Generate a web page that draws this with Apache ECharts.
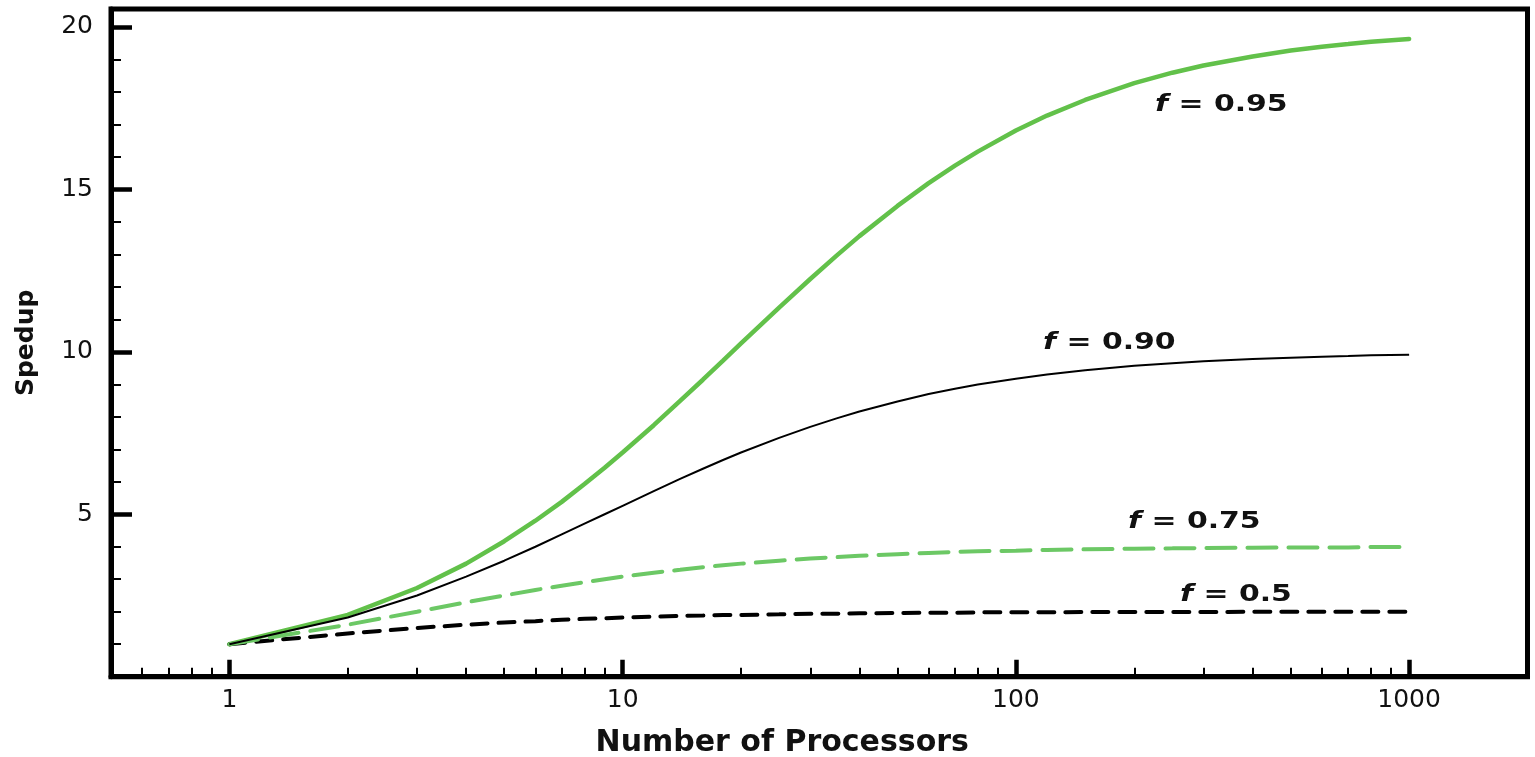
<!DOCTYPE html>
<html>
<head>
<meta charset="utf-8">
<script src="https://cdn.jsdelivr.net/npm/echarts@6/dist/echarts.min.js"></script>
<style>
  html,body{margin:0;padding:0;background:#fff;}
  #chart{width:1535px;height:757px;}
</style>
</head>
<body>
<div id="chart"></div>
<script>
// number of processors (x) and speedup
var PROCS = [1,2,3,4,5,6,7,8,9,10,12,14,16,18,20,25,30,35,40,50,60,70,80,100,120,150,200,250,300,400,500,600,700,800,1000];
var F95 = [1,1.9,2.73,3.48,4.17,4.8,5.38,5.93,6.43,6.9,7.74,8.49,9.14,9.73,10.26,11.36,12.24,12.96,13.56,14.49,15.19,15.73,16.16,16.81,17.27,17.75,18.27,18.59,18.81,19.09,19.27,19.39,19.47,19.54,19.63];
var F90 = [1,1.82,2.5,3.08,3.57,4,4.38,4.71,5,5.26,5.71,6.09,6.4,6.67,6.9,7.35,7.69,7.95,8.16,8.47,8.7,8.86,8.99,9.17,9.3,9.43,9.57,9.65,9.71,9.78,9.82,9.85,9.87,9.89,9.91];
var F75 = [1,1.6,2,2.29,2.5,2.67,2.8,2.91,3,3.08,3.2,3.29,3.37,3.43,3.48,3.57,3.64,3.68,3.72,3.77,3.81,3.84,3.86,3.88,3.9,3.92,3.94,3.95,3.96,3.97,3.98,3.98,3.98,3.99,3.99];
var F50 = [1,1.33,1.5,1.6,1.67,1.71,1.75,1.78,1.8,1.82,1.85,1.87,1.88,1.9,1.9,1.92,1.94,1.94,1.95,1.96,1.97,1.97,1.98,1.98,1.98,1.99,1.99,1.99,1.99,2,2,2,2,2,2];

var X_MAJOR = [1,10,100,1000];
var X_MINOR = [0.6,0.7,0.8,0.9,2,3,4,5,6,7,8,9,20,30,40,50,60,70,80,90,200,300,400,500,600,700,800,900];
var Y_MAJOR = [5,10,15,20];
var Y_MINOR = [1,2,3,4,6,7,8,9,11,12,13,14,16,17,18,19];
var LABELS = ['0.95','0.90','0.75','0.5'];

var FONT = 'DejaVu Sans';

function lg(v){ return Math.log10(v); }
function pairs(ys){
    return PROCS.map(function(n,i){ return [lg(n), ys[i]]; });
}

var chart = echarts.init(document.getElementById('chart'));

function annot(txt, x, y){
    return {
        type: 'text', x: x, y: y, scaleX: 1.3, z: 100,
        style: {
            text: '{i|f} = ' + txt,
            fill: '#111', fontFamily: FONT, fontWeight: 'bold', fontSize: 23,
            align: 'left', verticalAlign: 'middle',
            rich: { i: { fontStyle: 'italic', fontWeight: 'bold', fontSize: 23, fontFamily: FONT, fill: '#111' } }
        }
    };
}

chart.setOption({
    animation: false,
    backgroundColor: '#fff',
    grid: {
        left: 111, right: 7.5, top: 9, bottom: 80.3,
        show: true, borderColor: '#000', borderWidth: 5,
        containLabel: false, outerBoundsMode: 'none'
    },
    xAxis: [
        {
            type: 'value', position: 'bottom',
            min: lg(0.5), max: lg(2000),
            axisLine: { onZero: false, lineStyle: { color: '#000', width: 5 } },
            axisTick: { inside: true, length: 17, customValues: X_MAJOR.map(lg), lineStyle: { color: '#000', width: 4.5 } },
            axisLabel: {
                customValues: X_MAJOR.map(lg), margin: 11,
                color: '#111', fontFamily: FONT, fontSize: 25,
                formatter: function(v){ return String(Math.round(Math.pow(10, v))); }
            },
            splitLine: { show: false },
            name: 'Number of Processors', nameLocation: 'middle', nameGap: 52,
            nameTextStyle: { color: '#111', fontFamily: FONT, fontWeight: 'bold', fontSize: 30, padding: [0, 74, 0, 0] }
        },
        {
            type: 'value', position: 'bottom',
            min: lg(0.5), max: lg(2000),
            axisLine: { show: false, onZero: false },
            axisTick: { inside: true, length: 9, customValues: X_MINOR.map(lg), lineStyle: { color: '#000', width: 2 } },
            axisLabel: { show: false },
            splitLine: { show: false }
        }
    ],
    yAxis: [
        {
            type: 'value', position: 'left',
            min: 0, max: 20.55,
            axisLine: { onZero: false, lineStyle: { color: '#000', width: 5 } },
            axisTick: { inside: true, length: 21, customValues: Y_MAJOR, lineStyle: { color: '#000', width: 4.5 } },
            axisLabel: { customValues: Y_MAJOR, margin: 18, color: '#111', fontFamily: FONT, fontSize: 25 },
            splitLine: { show: false },
            name: 'Spedup', nameLocation: 'middle', nameGap: 72,
            nameTextStyle: { color: '#111', fontFamily: FONT, fontWeight: 'bold', fontSize: 25 }
        },
        {
            type: 'value', position: 'left',
            min: 0, max: 20.55,
            axisLine: { show: false, onZero: false },
            axisTick: { inside: true, length: 10, customValues: Y_MINOR, lineStyle: { color: '#000', width: 2 } },
            axisLabel: { show: false },
            splitLine: { show: false }
        }
    ],
    series: [
        {
            name: 'f = 0.5', type: 'line', showSymbol: false, data: pairs(F50),
            lineStyle: { color: '#000', width: 4, type: [16, 11], cap: 'round' }, z: 3
        },
        {
            name: 'f = 0.75', type: 'line', showSymbol: false, data: pairs(F75),
            lineStyle: { color: '#6cc865', width: 4, type: [29, 12], cap: 'round' }, z: 3
        },
        {
            name: 'f = 0.90', type: 'line', showSymbol: false, data: pairs(F90),
            lineStyle: { color: '#000', width: 2 }, z: 4
        },
        {
            name: 'f = 0.95', type: 'line', showSymbol: false, data: pairs(F95),
            lineStyle: { color: '#62c14a', width: 4.5, cap: 'round' }, z: 2
        }
    ],
    graphic: [
        annot(LABELS[0], 1155, 105),
        annot(LABELS[1], 1043, 343),
        annot(LABELS[2], 1128, 522),
        annot(LABELS[3], 1180, 595)
    ]
});
</script>
</body>
</html>
